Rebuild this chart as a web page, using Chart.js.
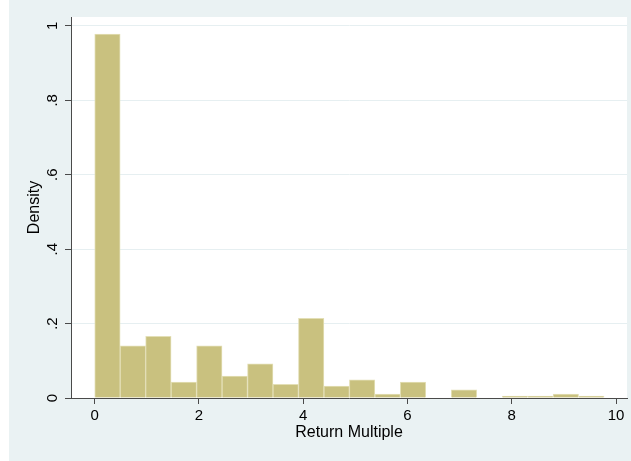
<!DOCTYPE html>
<html>
<head>
<meta charset="utf-8">
<script src="https://cdn.jsdelivr.net/npm/chart.js@4/dist/chart.umd.min.js"></script>
<style>
  html, body { margin: 0; padding: 0; background: #ffffff; }
  #wrap { width: 631px; height: 461px; position: relative; }
</style>
</head>
<body>
<div id="wrap"><canvas id="hist" width="631" height="461"></canvas></div>
<script>
// Histogram bins: midpoints of equal-width bins on the return multiple
const binMid = [0.244, 0.733, 1.221, 1.710, 2.198, 2.687, 3.175, 3.664, 4.152, 4.641,
                5.129, 5.618, 6.106, 6.595, 7.083, 7.572, 8.060, 8.549, 9.037, 9.526];
// Density of each bin
const density = [0.978, 0.140, 0.166, 0.043, 0.140, 0.059, 0.092, 0.037, 0.214, 0.032,
                 0.049, 0.0107, 0.043, 0, 0.022, 0, 0.0054, 0.0054, 0.0107, 0.0054];

const xTicks = [0, 2, 4, 6, 8, 10];
const xTickLabels = ['0', '2', '4', '6', '8', '10'];
const yTicks = [0, 0.2, 0.4, 0.6, 0.8, 1];
const yTickLabels = ['0', '.2', '.4', '.6', '.8', '1'];

const xTitle = 'Return Multiple';
const yTitle = 'Density';

const FONT = '"Liberation Sans", Arial, Helvetica, sans-serif';
const AXIS = '#4a4a4a';
const BG = '#eaf2f3';

// Paints the graph region and the white plot region behind the bars
const backdrop = {
  id: 'backdrop',
  beforeDraw(chart) {
    const { ctx, chartArea: a } = chart;
    ctx.save();
    ctx.fillStyle = '#ffffff';
    ctx.fillRect(0, 0, chart.width, chart.height);
    ctx.fillStyle = BG;
    ctx.fillRect(9, 0, chart.width - 9, chart.height);
    ctx.fillStyle = '#ffffff';
    ctx.fillRect(a.left, a.top, a.right - a.left, a.bottom - a.top);
    ctx.restore();
  }
};

const points = binMid.map((m, i) => ({ x: m, y: density[i] }));

new Chart(document.getElementById('hist'), {
  type: 'bar',
  data: {
    datasets: [{
      data: points,
      backgroundColor: '#c9c17f',
      borderColor: '#e3dfb6',
      borderWidth: 1,
      barPercentage: 1,
      categoryPercentage: 1
    }]
  },
  options: {
    responsive: false,
    animation: false,
    events: [],
    layout: { padding: { top: 17, right: 4, left: 0, bottom: 0 } },
    plugins: { legend: { display: false }, tooltip: { enabled: false } },
    scales: {
      x: {
        type: 'linear',
        offset: false,
        min: -0.455,
        max: 10.21,
        afterBuildTicks(scale) { scale.ticks = xTicks.map(v => ({ value: v })); },
        afterFit(scale) { scale.height = 63; },
        grid: {
          display: true,
          offset: false,
          drawOnChartArea: false,
          drawTicks: true,
          tickLength: 6,
          tickColor: AXIS,
          tickWidth: 1
        },
        border: { display: true, color: AXIS, width: 1 },
        ticks: {
          autoSkip: false,
          maxRotation: 0,
          padding: 3,
          color: '#000000',
          font: { family: FONT, size: 15 },
          callback(value) {
            const i = xTicks.indexOf(value);
            return i >= 0 ? xTickLabels[i] : '';
          }
        },
        title: {
          display: true,
          text: xTitle,
          color: '#000000',
          font: { family: FONT, size: 16 },
          padding: { top: 0, bottom: 19 }
        }
      },
      y: {
        type: 'linear',
        min: 0,
        max: 1.024,
        afterBuildTicks(scale) { scale.ticks = yTicks.map(v => ({ value: v })); },
        afterFit(scale) { scale.width = 71; },
        grid: {
          display: true,
          drawOnChartArea: true,
          color: '#e6eff1',
          lineWidth: 1,
          drawTicks: true,
          tickLength: 6,
          tickColor: AXIS,
          tickWidth: 1
        },
        border: { display: true, color: AXIS, width: 1 },
        ticks: {
          autoSkip: false,
          minRotation: 90,
          maxRotation: 90,
          crossAlign: 'center',
          padding: 6,
          color: '#000000',
          font: { family: FONT, size: 15 },
          callback(value) {
            const i = yTicks.indexOf(value);
            return i >= 0 ? yTickLabels[i] : '';
          }
        },
        title: {
          display: true,
          text: yTitle,
          color: '#000000',
          font: { family: FONT, size: 16 },
          padding: { top: 25, bottom: 0 }
        }
      }
    }
  },
  plugins: [backdrop]
});
</script>
</body>
</html>
